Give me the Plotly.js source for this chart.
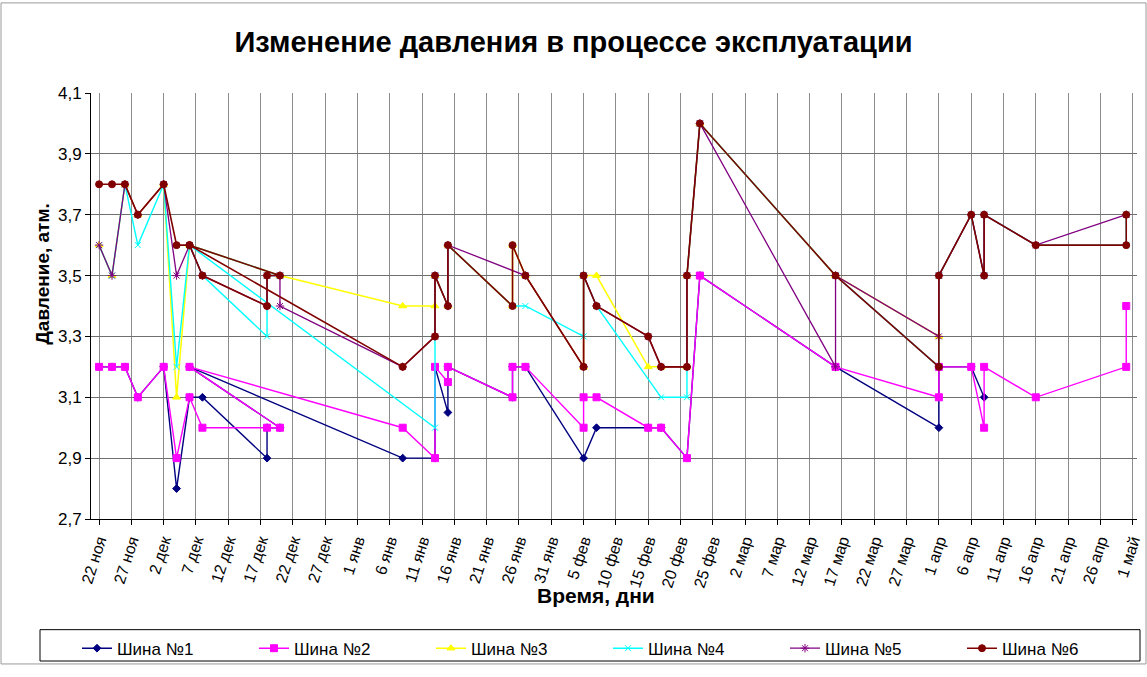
<!DOCTYPE html>
<html>
<head>
<meta charset="utf-8">
<script src="https://cdn.plot.ly/plotly-3.0.1.min.js"></script>
<style>
  html, body { margin: 0; padding: 0; background: #fff; }
  #chart { width: 1147px; height: 677px; }
</style>
</head>
<body>
<div id="chart"></div>
<script>
// ---- Data ----
const seriesNames = ['Шина №1', 'Шина №2', 'Шина №3', 'Шина №4', 'Шина №5', 'Шина №6'];

const tire1Dates = ['2009-11-22','2009-11-24','2009-11-26','2009-11-28','2009-12-02','2009-12-04','2009-12-06','2009-12-08','2009-12-18','2009-12-18','2009-12-20','2009-12-06','2010-01-08','2010-01-13','2010-01-13','2010-01-15','2010-01-15','2010-01-25','2010-01-25','2010-01-27','2010-02-05','2010-02-07','2010-02-15','2010-02-17','2010-02-21','2010-02-23','2010-03-16','2010-04-01','2010-04-01','2010-04-06','2010-04-08'];
const tire1Values = [3.2,3.2,3.2,3.1,3.2,2.8,3.1,3.1,2.9,3.0,3.0,3.2,2.9,2.9,3.2,3.05,3.2,3.1,3.2,3.2,2.9,3.0,3.0,3.0,2.9,3.5,3.2,3.0,3.2,3.2,3.1];

const tire2Dates = ['2009-11-22','2009-11-24','2009-11-26','2009-11-28','2009-12-02','2009-12-04','2009-12-06','2009-12-08','2009-12-18','2009-12-20','2009-12-06','2010-01-08','2010-01-13','2010-01-13','2010-01-15','2010-01-15','2010-01-25','2010-01-25','2010-01-27','2010-02-05','2010-02-05','2010-02-07','2010-02-15','2010-02-17','2010-02-21','2010-02-23','2010-03-16','2010-04-01','2010-04-01','2010-04-06','2010-04-08','2010-04-08','2010-04-16','2010-04-30','2010-04-30'];
const tire2Values = [3.2,3.2,3.2,3.1,3.2,2.9,3.1,3.0,3.0,3.0,3.2,3.0,2.9,3.2,3.15,3.2,3.1,3.2,3.2,3.0,3.1,3.1,3.0,3.0,2.9,3.5,3.2,3.1,3.2,3.2,3.0,3.2,3.1,3.2,3.4];

const tire3Dates = ['2009-11-22','2009-11-24','2009-11-26','2009-11-28','2009-12-02','2009-12-04','2009-12-06','2009-12-20','2010-01-08','2010-01-13','2010-01-13','2010-01-15','2010-01-15','2010-01-25','2010-01-25','2010-01-27','2010-02-05','2010-02-05','2010-02-07','2010-02-15','2010-02-17','2010-02-21','2010-02-21','2010-02-23','2010-03-16','2010-04-01'];
const tire3Values = [3.6,3.5,3.8,3.7,3.8,3.1,3.6,3.5,3.4,3.4,3.5,3.4,3.6,3.4,3.6,3.5,3.2,3.5,3.5,3.2,3.2,3.2,3.5,4.0,3.5,3.3];

const tire4Dates = ['2009-11-22','2009-11-24','2009-11-26','2009-11-28','2009-12-02','2009-12-04','2009-12-06','2009-12-08','2009-12-18','2009-12-18','2009-12-20','2009-12-06','2010-01-13','2010-01-13','2010-01-15','2010-01-15','2010-01-25','2010-01-27','2010-02-05','2010-02-05','2010-02-07','2010-02-17','2010-02-21','2010-02-21','2010-02-23','2010-03-16','2010-04-01','2010-04-01','2010-04-06','2010-04-08','2010-04-08','2010-04-16','2010-04-30','2010-04-30'];
const tire4Values = [3.6,3.5,3.8,3.6,3.8,3.2,3.6,3.5,3.3,3.5,3.5,3.6,3.0,3.5,3.4,3.6,3.4,3.4,3.3,3.5,3.4,3.1,3.1,3.5,4.0,3.5,3.2,3.5,3.7,3.5,3.7,3.6,3.6,3.7];

const tire5Dates = ['2009-11-22','2009-11-24','2009-11-26','2009-11-28','2009-12-02','2009-12-04','2009-12-06','2009-12-08','2009-12-18','2009-12-18','2009-12-20','2009-12-20','2010-01-08','2010-01-13','2010-01-13','2010-01-15','2010-01-15','2010-01-27','2010-02-05','2010-02-05','2010-02-07','2010-02-15','2010-02-17','2010-02-21','2010-02-21','2010-02-23','2010-03-16','2010-03-16','2010-04-01','2010-04-01','2010-04-06','2010-04-08','2010-04-08','2010-04-16','2010-04-30'];
const tire5Values = [3.6,3.5,3.8,3.7,3.8,3.5,3.6,3.5,3.4,3.5,3.5,3.4,3.2,3.3,3.5,3.4,3.6,3.5,3.2,3.5,3.4,3.3,3.2,3.2,3.5,4.0,3.2,3.5,3.3,3.5,3.7,3.5,3.7,3.6,3.7];

const tire6Dates = ['2009-11-22','2009-11-24','2009-11-26','2009-11-28','2009-12-02','2009-12-04','2009-12-06','2009-12-08','2009-12-18','2009-12-18','2009-12-20','2009-12-06','2010-01-08','2010-01-13','2010-01-13','2010-01-15','2010-01-15','2010-01-25','2010-01-25','2010-01-27','2010-02-05','2010-02-05','2010-02-07','2010-02-15','2010-02-17','2010-02-21','2010-02-21','2010-02-23','2010-03-16','2010-04-01','2010-04-01','2010-04-06','2010-04-08','2010-04-08','2010-04-16','2010-04-30','2010-04-30'];
const tire6Values = [3.8,3.8,3.8,3.7,3.8,3.6,3.6,3.5,3.4,3.5,3.5,3.6,3.2,3.3,3.5,3.4,3.6,3.4,3.6,3.5,3.2,3.5,3.4,3.3,3.2,3.2,3.5,4.0,3.5,3.2,3.5,3.7,3.5,3.7,3.6,3.6,3.7];

const xTickDates = ['2009-11-22','2009-11-27','2009-12-02','2009-12-07','2009-12-12','2009-12-17','2009-12-22','2009-12-27','2010-01-01','2010-01-06','2010-01-11','2010-01-16','2010-01-21','2010-01-26','2010-01-31','2010-02-05','2010-02-10','2010-02-15','2010-02-20','2010-02-25','2010-03-02','2010-03-07','2010-03-12','2010-03-17','2010-03-22','2010-03-27','2010-04-01','2010-04-06','2010-04-11','2010-04-16','2010-04-21','2010-04-26','2010-05-01'];
const xTickLabels = ['22 ноя','27 ноя','2 дек','7 дек','12 дек','17 дек','22 дек','27 дек','1 янв','6 янв','11 янв','16 янв','21 янв','26 янв','31 янв','5 фев','10 фев','15 фев','20 фев','25 фев','2 мар','7 мар','12 мар','17 мар','22 мар','27 мар','1 апр','6 апр','11 апр','16 апр','21 апр','26 апр','1 май'];
const yTickValues = [2.7, 2.9, 3.1, 3.3, 3.5, 3.7, 3.9, 4.1];
const yTickLabels = ['2,7', '2,9', '3,1', '3,3', '3,5', '3,7', '3,9', '4,1'];

// ---- Styles ----
const FONT = 'Liberation Sans, Arial, sans-serif';
const allDates = [tire1Dates, tire2Dates, tire3Dates, tire4Dates, tire5Dates, tire6Dates];
const allValues = [tire1Values, tire2Values, tire3Values, tire4Values, tire5Values, tire6Values];
const colors = ['#000080', '#FF00FF', '#FFFF00', '#00FFFF', '#800080', '#800000'];
const symbols = ['diamond', 'square', 'triangle-up', 'x-thin-open', 'asterisk-open', 'circle'];
const sizes = [6, 7, 7, 6, 7, 7];
const widths = [1.4, 1.4, 1.5, 1.4, 1.3, 1.6];

const traces = seriesNames.map((name, i) => ({
  type: 'scatter',
  mode: 'lines+markers',
  name: name,
  x: allDates[i],
  y: allValues[i],
  line: { color: colors[i], width: widths[i] },
  marker: { color: colors[i], symbol: symbols[i], size: sizes[i], line: { color: colors[i], width: 1 } },
  hoverinfo: 'skip'
}));

const plotL = 91, plotR = 1137, plotT = 93, plotB = 528;
const pw = plotR - plotL, ph = plotB - plotT;
const px = v => (v - plotL) / pw;
const py = v => (plotB - v) / ph;

const layout = {
  width: 1147,
  height: 677,
  margin: { l: plotL, r: 1147 - plotR, t: plotT, b: 677 - plotB, pad: 0 },
  paper_bgcolor: '#ffffff',
  plot_bgcolor: '#ffffff',
  showlegend: true,
  title: {
    text: '<b>Изменение давления в процессе эксплуатации</b>',
    font: { family: FONT, size: 29, color: '#000' },
    x: 0.5, xref: 'container', xanchor: 'center',
    y: 1 - 42 / 677, yref: 'container', yanchor: 'middle'
  },
  xaxis: {
    type: 'date',
    range: ['2009-11-20 18:00', '2010-05-01 16:00'],
    tickmode: 'array',
    tickvals: xTickDates,
    ticktext: xTickLabels,
    tickangle: -72,
    tickfont: { family: FONT, size: 16, color: '#000' },
    showgrid: true,
    gridcolor: '#8c8c8c',
    gridwidth: 1,
    showline: true,
    linecolor: '#000',
    linewidth: 1,
    ticks: 'outside',
    ticklen: 5,
    tickcolor: '#000',
    zeroline: false
  },
  yaxis: {
    range: [2.7, 4.1],
    tickmode: 'array',
    tickvals: yTickValues,
    ticktext: yTickLabels,
    tickfont: { family: FONT, size: 17, color: '#000' },
    showgrid: true,
    gridcolor: '#707070',
    gridwidth: 1,
    showline: true,
    linecolor: '#000',
    linewidth: 1,
    ticks: 'outside',
    ticklen: 5,
    tickcolor: '#000',
    zeroline: false
  },
  legend: {
    orientation: 'h',
    x: px(77), xanchor: 'left',
    y: py(642), yanchor: 'top',
    borderwidth: 0,
    bgcolor: 'rgba(0,0,0,0)',
    font: { family: FONT, size: 17, color: '#000' },
    entrywidth: 132,
    entrywidthmode: 'pixels',
    itemwidth: 30,
    tracegroupgap: 0
  },
  annotations: [
    {
      text: '<b>Давление, атм.</b>',
      xref: 'paper', yref: 'paper',
      x: px(30), y: py(278),
      textangle: -90,
      showarrow: false,
      font: { family: FONT, size: 19, color: '#000' }
    },
    {
      text: '<b>Время, дни</b>',
      xref: 'paper', yref: 'paper',
      x: px(596), y: py(620),
      showarrow: false,
      font: { family: FONT, size: 21, color: '#000' }
    }
  ],
  shapes: [
    {
      type: 'rect', xref: 'paper', yref: 'paper',
      x0: px(1), x1: px(1146), y0: py(676), y1: py(1),
      line: { color: '#9a9a9a', width: 1 },
      fillcolor: 'rgba(0,0,0,0)',
      layer: 'below'
    },
    {
      type: 'rect', xref: 'paper', yref: 'paper',
      x0: px(40), x1: px(1140), y0: py(673), y1: py(641),
      line: { color: '#000', width: 1 },
      fillcolor: 'rgba(0,0,0,0)',
      layer: 'below'
    }
  ]
};

Plotly.newPlot('chart', traces, layout, { staticPlot: true, displayModeBar: false });
</script>
</body>
</html>
